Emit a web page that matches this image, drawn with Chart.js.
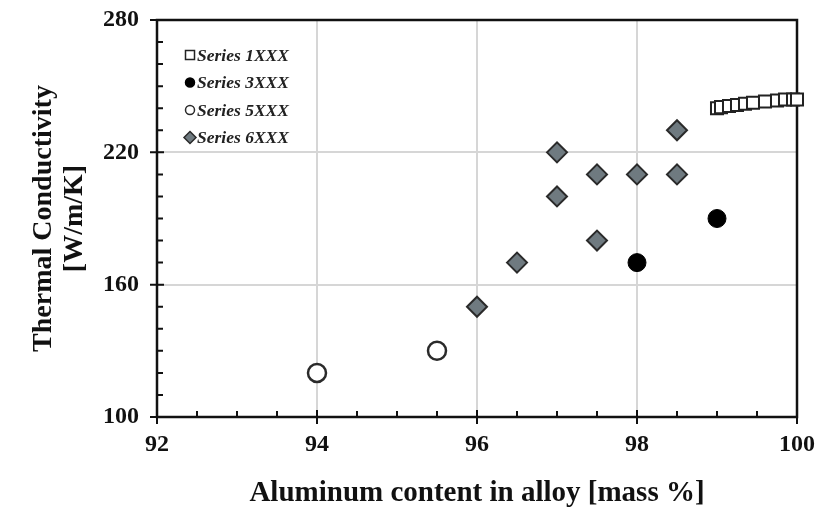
<!DOCTYPE html>
<html>
<head>
<meta charset="utf-8">
<script src="https://cdn.jsdelivr.net/npm/chart.js@4.4.0/dist/chart.umd.min.js"></script>
<style>
  html, body { margin: 0; padding: 0; background: #fff; }
  #wrap { width: 820px; height: 512px; }
</style>
</head>
<body>
<div id="wrap"><canvas id="c" width="820" height="512"></canvas></div>
<script>
// values
const s1xxxX = [99.0, 99.05, 99.15, 99.25, 99.35, 99.45, 99.6, 99.75, 99.85, 99.95, 100.0];
const s1xxxY = [240, 240.5, 241, 241.5, 242, 242.5, 243, 243.5, 244, 244, 244];
const s3xxxX = [98, 99];
const s3xxxY = [170, 190];
const s5xxxX = [94, 95.5];
const s5xxxY = [120, 130];
const s6xxxX = [96, 96.5, 97, 97, 97.5, 97.5, 98, 98.5, 98.5];
const s6xxxY = [150, 170, 220, 200, 210, 180, 210, 210, 230];

const seriesNames = ['Series 1XXX', 'Series 3XXX', 'Series 5XXX', 'Series 6XXX'];
const xTitle = 'Aluminum content in alloy [mass %]';
const yTitle = ['Thermal Conductivity', '[W/m/K]'];

const toPts = (xs, ys) => xs.map((x, i) => ({ x: x, y: ys[i] }));

const FONT = '"Liberation Serif", "Times New Roman", serif';

// frame + tick marks (major crossing, minor inside)
const framePlugin = {
  id: 'frame',
  beforeDatasetsDraw(chart) {
    const { ctx, chartArea: a, scales } = chart;
    ctx.save();
    ctx.strokeStyle = '#111';
    ctx.lineWidth = 2.5;
    ctx.strokeRect(a.left, a.top, a.right - a.left, a.bottom - a.top);
    ctx.lineWidth = 2;
    ctx.beginPath();
    for (let v = 100; v <= 280; v += 10) {
      const y = scales.y.getPixelForValue(v);
      if (v % 60 === 40) { ctx.moveTo(a.left - 7, y); ctx.lineTo(a.left + 7, y); }
      else { ctx.moveTo(a.left, y); ctx.lineTo(a.left + 6, y); }
    }
    for (let v = 92; v <= 100; v += 0.5) {
      const x = scales.x.getPixelForValue(v);
      if (v % 2 === 0) { ctx.moveTo(x, a.bottom - 7); ctx.lineTo(x, a.bottom + 7); }
      else { ctx.moveTo(x, a.bottom); ctx.lineTo(x, a.bottom - 6); }
    }
    ctx.stroke();
    ctx.restore();
  }
};

// legend inside the plot, upper left
const legendPlugin = {
  id: 'innerLegend',
  afterDraw(chart) {
    const { ctx, chartArea: a } = chart;
    ctx.save();
    chart.data.datasets.forEach((ds, i) => {
      const cx = a.left + 33;
      const cy = a.top + 35 + i * 27.5;
      ctx.lineWidth = 1.5;
      ctx.strokeStyle = ds.borderColor;
      ctx.fillStyle = ds.backgroundColor;
      ctx.beginPath();
      if (ds.pointStyle === 'rect') {
        ctx.rect(cx - 4.5, cy - 4.5, 9, 9);
      } else if (ds.pointStyle === 'rectRot') {
        ctx.moveTo(cx, cy - 6); ctx.lineTo(cx + 6, cy); ctx.lineTo(cx, cy + 6); ctx.lineTo(cx - 6, cy); ctx.closePath();
      } else {
        ctx.arc(cx, cy, 4.5, 0, Math.PI * 2);
      }
      ctx.fill();
      ctx.stroke();
      ctx.fillStyle = '#222';
      ctx.font = 'italic bold 17.5px ' + FONT;
      ctx.textBaseline = 'middle';
      ctx.fillText(ds.label, cx + 7, cy + 1);
    });
    ctx.restore();
  }
};

new Chart(document.getElementById('c'), {
  type: 'scatter',
  data: {
    datasets: [
      {
        label: seriesNames[0], data: toPts(s1xxxX, s1xxxY),
        pointStyle: 'rect', pointRadius: 8.5, borderWidth: 2,
        borderColor: '#222', backgroundColor: '#fff', clip: false
      },
      {
        label: seriesNames[1], data: toPts(s3xxxX, s3xxxY),
        pointStyle: 'circle', pointRadius: 9, borderWidth: 1,
        borderColor: '#000', backgroundColor: '#000', clip: false
      },
      {
        label: seriesNames[2], data: toPts(s5xxxX, s5xxxY),
        pointStyle: 'circle', pointRadius: 9, borderWidth: 2.5,
        borderColor: '#2a2a2a', backgroundColor: '#fff', clip: false
      },
      {
        label: seriesNames[3], data: toPts(s6xxxX, s6xxxY),
        pointStyle: 'rectRot', pointRadius: 10, borderWidth: 2,
        borderColor: '#2a2a2a', backgroundColor: '#6f7a80', clip: false
      }
    ]
  },
  options: {
    responsive: false,
    animation: false,
    layout: { padding: { top: 20, right: 23, left: 0, bottom: 0 } },
    plugins: { legend: { display: false }, tooltip: { enabled: false } },
    scales: {
      x: {
        type: 'linear', min: 92, max: 100,
        afterFit: (s) => { s.height = 95; s.paddingLeft = 0; s.paddingRight = 0; },
        ticks: { stepSize: 2, padding: 13, color: '#111', font: { family: FONT, size: 24, weight: 'bold' } },
        grid: { color: '#d6d6d6', lineWidth: 2, drawTicks: false },
        border: { display: false },
        title: {
          display: true, text: xTitle, color: '#111', padding: { top: 0, bottom: 1 },
          font: { family: FONT, size: 29, weight: 'bold' }
        }
      },
      y: {
        type: 'linear', min: 100, max: 280,
        afterFit: (s) => { s.width = 157; s.paddingTop = 0; s.paddingBottom = 0; },
        ticks: { stepSize: 60, padding: 18, color: '#111', font: { family: FONT, size: 24, weight: 'bold' } },
        grid: { color: '#d6d6d6', lineWidth: 2, drawTicks: false },
        border: { display: false },
        title: {
          display: true, text: yTitle, color: '#111', padding: { top: 29, bottom: 0 },
          font: { family: FONT, size: 28, weight: 'bold', lineHeight: 1.08 }
        }
      }
    }
  },
  plugins: [framePlugin, legendPlugin]
});
</script>
</body>
</html>
